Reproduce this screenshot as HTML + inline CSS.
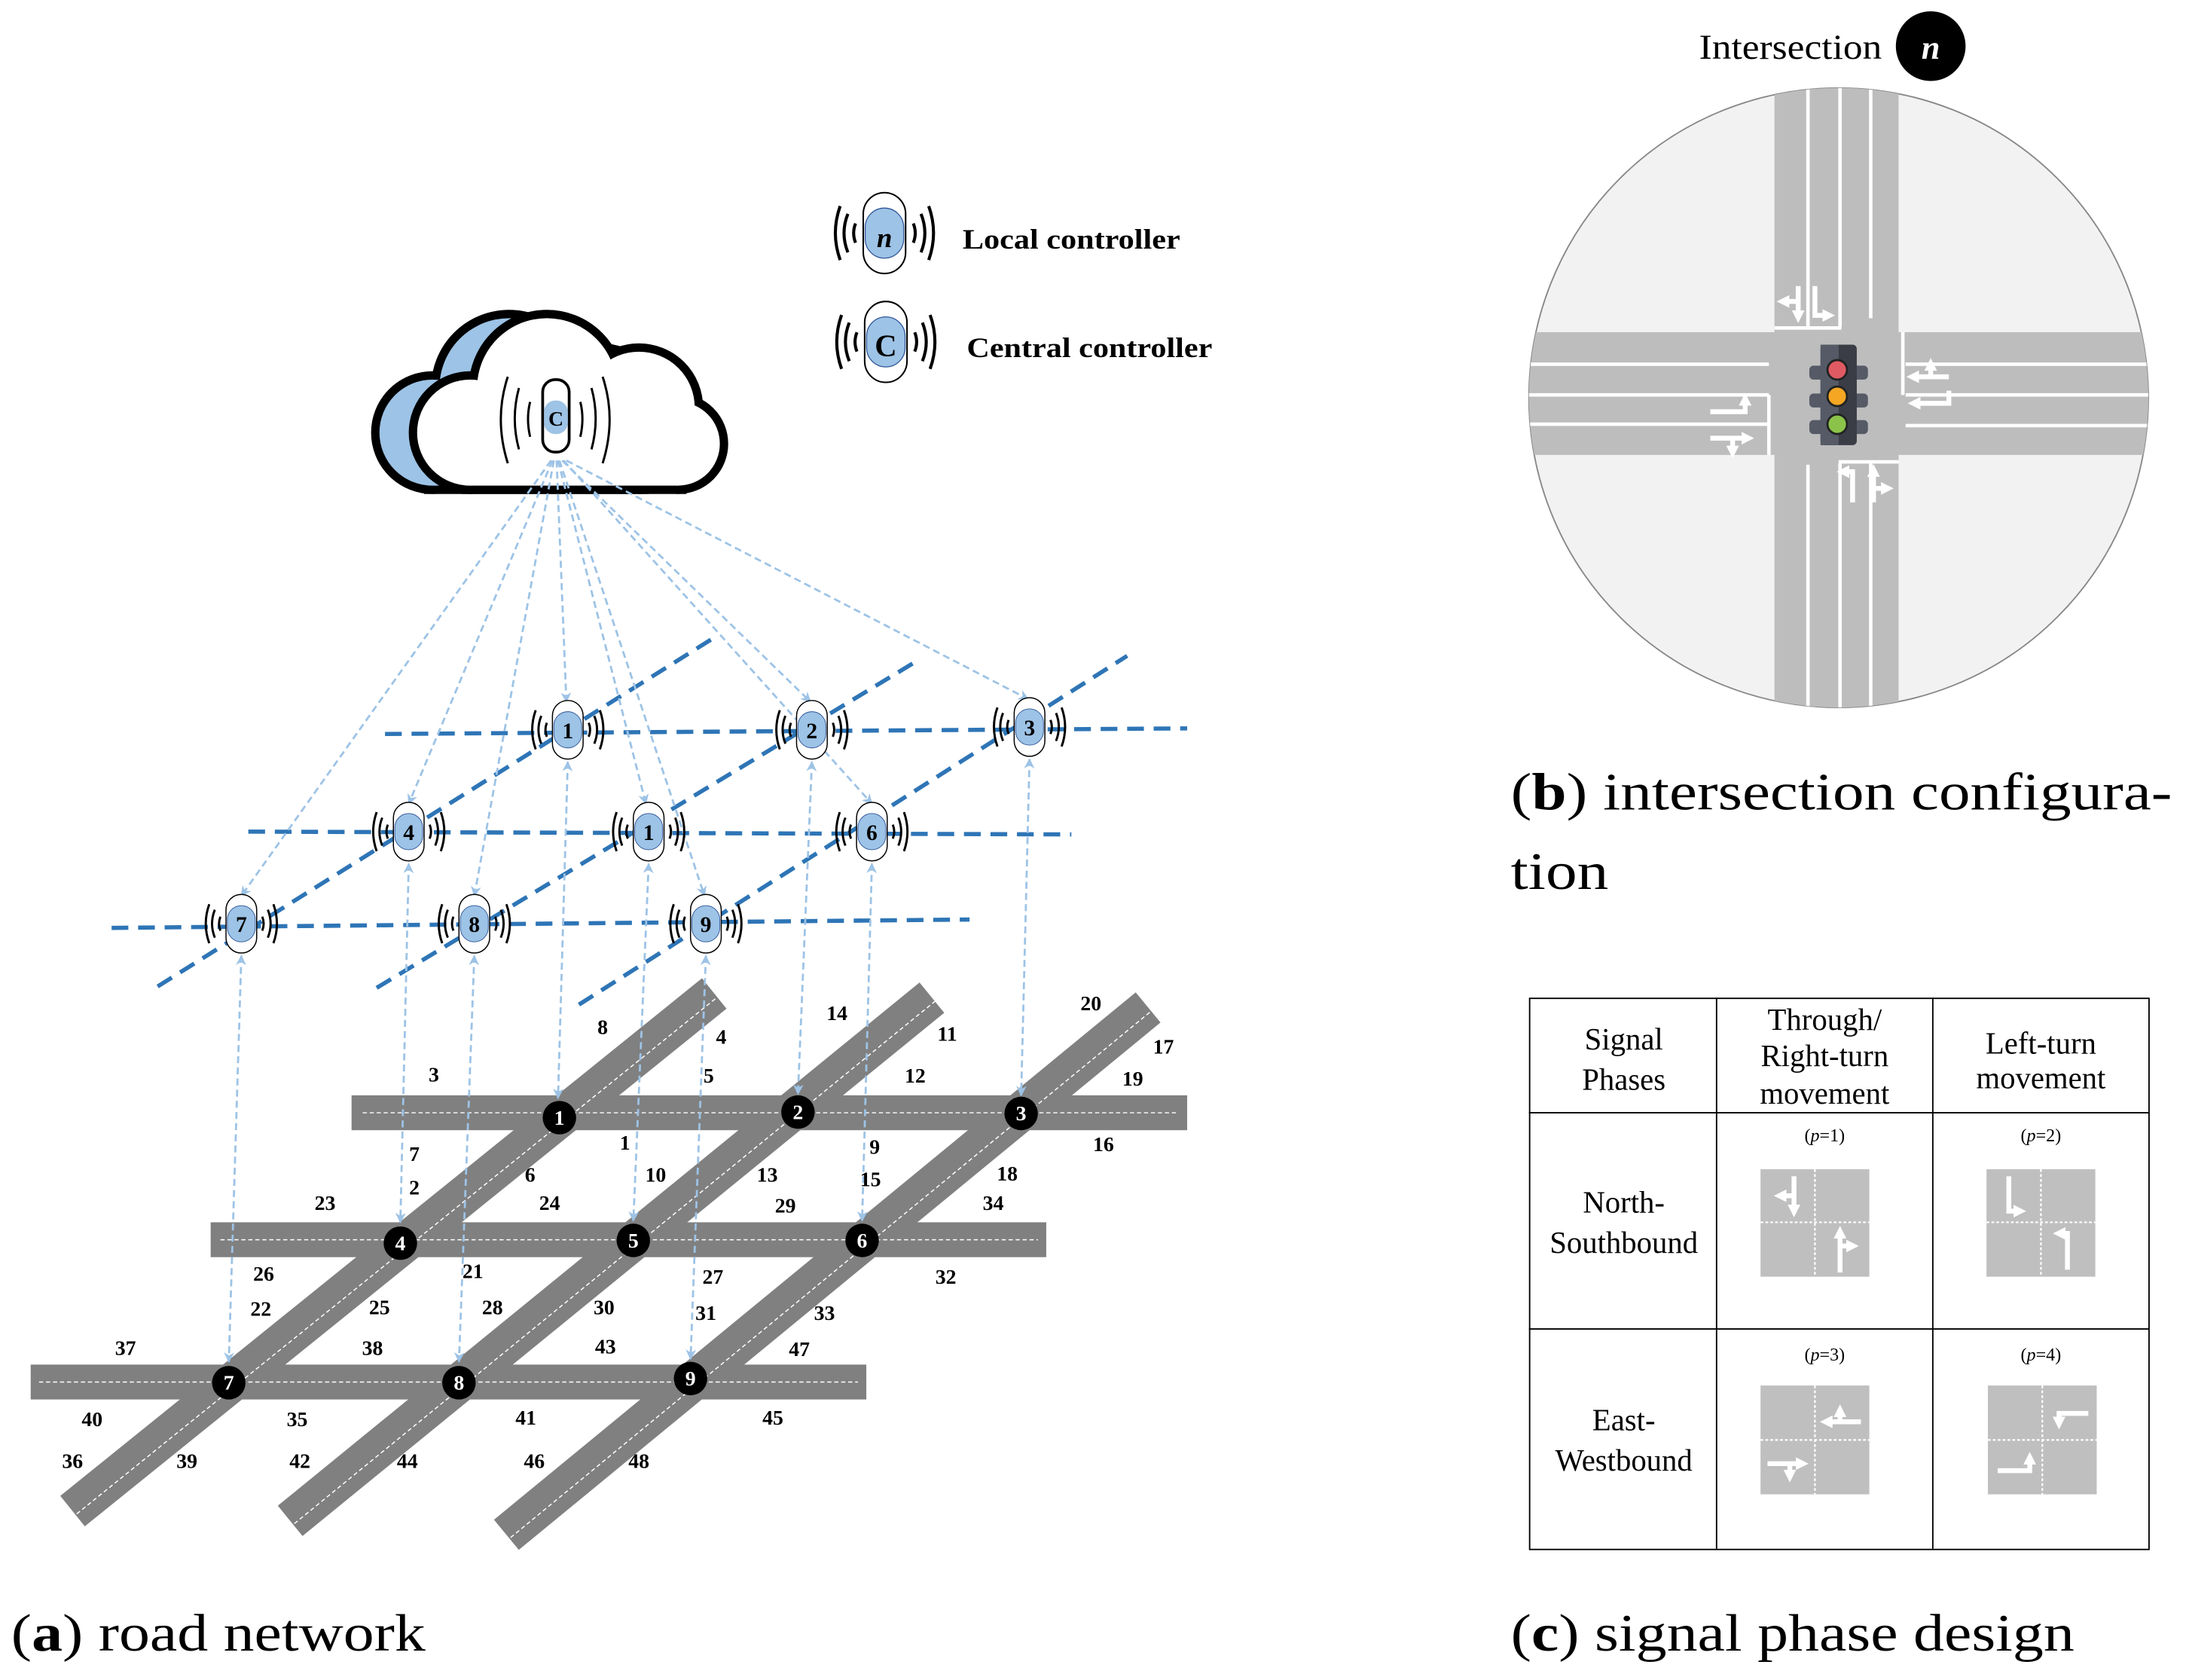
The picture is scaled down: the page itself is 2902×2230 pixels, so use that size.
<!DOCTYPE html>
<html><head><meta charset="utf-8"><style>
html,body{margin:0;padding:0;background:#fff}
svg{display:block}
text{font-family:"Liberation Serif",serif}
</style></head><body>
<svg width="2902" height="2230" viewBox="0 0 1567 1204" xmlns="http://www.w3.org/2000/svg">
<defs>
<marker id="ah" viewBox="0 0 10 10" refX="9" refY="5" markerWidth="5" markerHeight="5" orient="auto-start-reverse"><path d="M0,0 L10,5 L0,10 L3,5 Z" fill="#9dc3e6"/></marker>
<marker id="wh" viewBox="0 0 10 10" refX="4" refY="5" markerWidth="2.6" markerHeight="2.6" orient="auto"><path d="M0,0 L10,5 L0,10 Z" fill="#fff"/></marker>
<g id="ctl">
<rect x="-11" y="-21" width="22" height="42" rx="11" fill="#fff" stroke="#000" stroke-width="0.8"/>
<rect x="-10" y="-13" width="20" height="26" rx="10" fill="#9dc3e6" stroke="#2f5597" stroke-width="0.5"/>
<g fill="none" stroke="#000" stroke-width="1.6">
<path d="M-15,-5 Q-17,0 -15,5"/><path d="M-19,-10 Q-23,0 -19,10"/><path d="M-23,-14 Q-28,0 -23,14"/>
<path d="M15,-5 Q17,0 15,5"/><path d="M19,-10 Q23,0 19,10"/><path d="M23,-14 Q28,0 23,14"/>
</g>
</g>
<g id="cloudshape">
<circle cx="337" cy="310" r="38"/>
<circle cx="392" cy="278" r="50"/>
<circle cx="458" cy="292" r="40"/>
<circle cx="486" cy="318" r="30"/>
<rect x="337" y="300" width="149" height="48"/>
</g>
</defs>

<!-- cloud -->
<g transform="translate(-27,0)">
<use href="#cloudshape" fill="#000" stroke="#000" stroke-width="12"/>
<use href="#cloudshape" fill="#9dc3e6"/>
</g>
<use href="#cloudshape" fill="#000" stroke="#000" stroke-width="12"/>
<use href="#cloudshape" fill="#fff"/>
<g fill="none" stroke="#000" stroke-width="1.6">
<path d="M380,288 Q377,300 380,313"/><path d="M372,278 Q366,300 372,322"/><path d="M364,270 Q354,300 364,332"/>
<path d="M416,288 Q419,300 416,313"/><path d="M424,278 Q430,300 424,322"/><path d="M432,270 Q442,300 432,332"/>
</g>
<rect x="389" y="272" width="19" height="52" rx="9" fill="#fff" stroke="#000" stroke-width="2"/>
<rect x="390" y="287" width="17" height="24" rx="8" fill="#9dc3e6"/>
<text x="398.5" y="305" font-size="15" font-weight="bold" text-anchor="middle">C</text>

<!-- blue dashed grid lines -->
<g stroke="#2e75b6" stroke-width="3" stroke-dasharray="12,7" fill="none">
<line x1="276" y1="526" x2="851" y2="522"/>
<line x1="178" y1="596" x2="768" y2="598"/>
<line x1="80" y1="665" x2="695" y2="659"/>
<line x1="113" y1="707" x2="515" y2="455"/>
<line x1="270" y1="708" x2="660" y2="472"/>
<line x1="415" y1="720" x2="808" y2="470"/>
</g>

<!-- roads -->
<g fill="#808080">
<rect x="252" y="785" width="599" height="25"/>
<rect x="151" y="876" width="599" height="25"/>
<rect x="22" y="978" width="599" height="25"/>
</g>
<g stroke="#808080" stroke-width="28">
<line x1="52" y1="1083" x2="512" y2="712"/>
<line x1="208" y1="1090" x2="668" y2="715"/>
<line x1="363" y1="1100" x2="823" y2="722"/>
</g>
<g stroke="#fff" stroke-width="0.8" stroke-dasharray="3,2" fill="none">
<line x1="260" y1="797.5" x2="845" y2="797.5"/>
<line x1="158" y1="888.5" x2="744" y2="888.5"/>
<line x1="28" y1="990.5" x2="615" y2="990.5"/>
<line x1="55" y1="1085" x2="515" y2="714"/>
<line x1="211" y1="1092" x2="671" y2="717"/>
<line x1="366" y1="1102" x2="826" y2="724"/>
</g>

<!-- light arrows from cloud -->
<g stroke="#9dc3e6" stroke-width="1.5" stroke-dasharray="5,3" fill="none" marker-end="url(#ah)">
<line x1="395" y1="330" x2="173" y2="642"/>
<line x1="396" y1="330" x2="293" y2="576"/>
<line x1="397" y1="330" x2="340" y2="642"/>
<line x1="399" y1="330" x2="406" y2="503"/>
<line x1="400" y1="330" x2="463" y2="576"/>
<line x1="401" y1="330" x2="505" y2="642"/>
<line x1="403" y1="330" x2="581" y2="503"/>
<line x1="404" y1="330" x2="625" y2="576"/>
<line x1="406" y1="330" x2="737" y2="501"/>
</g>
<g stroke="#9dc3e6" stroke-width="1.5" stroke-dasharray="5,3" fill="none" marker-start="url(#ah)" marker-end="url(#ah)">
<line x1="173" y1="685" x2="164" y2="976"/>
<line x1="293" y1="619" x2="287" y2="876"/>
<line x1="340" y1="685" x2="329" y2="976"/>
<line x1="407" y1="546" x2="400" y2="787"/>
<line x1="465" y1="619" x2="454" y2="875"/>
<line x1="506" y1="685" x2="495" y2="974"/>
<line x1="582" y1="546" x2="572" y2="784"/>
<line x1="625" y1="619" x2="618" y2="875"/>
<line x1="738" y1="544" x2="732" y2="785"/>
</g>

<!-- controllers -->
<g font-size="16" font-weight="bold" text-anchor="middle">
<use href="#ctl" x="407" y="523"/><text x="407" y="529">1</text>
<use href="#ctl" x="582" y="523"/><text x="582" y="529">2</text>
<use href="#ctl" x="738" y="521"/><text x="738" y="527">3</text>
<use href="#ctl" x="293" y="596"/><text x="293" y="602">4</text>
<use href="#ctl" x="465" y="596"/><text x="465" y="602">1</text>
<use href="#ctl" x="625" y="596"/><text x="625" y="602">6</text>
<use href="#ctl" x="173" y="662"/><text x="173" y="668">7</text>
<use href="#ctl" x="340" y="662"/><text x="340" y="668">8</text>
<use href="#ctl" x="506" y="662"/><text x="506" y="668">9</text>
</g>

<!-- nodes -->
<g fill="#000">
<circle cx="401" cy="801" r="12"/><circle cx="572" cy="797" r="12"/><circle cx="732" cy="798" r="12"/>
<circle cx="287" cy="891" r="12"/><circle cx="454" cy="889" r="12"/><circle cx="618" cy="889" r="12"/>
<circle cx="164" cy="991" r="12"/><circle cx="329" cy="991" r="12"/><circle cx="495" cy="988" r="12"/>
</g>
<g fill="#fff" font-size="15" font-weight="bold" text-anchor="middle">
<text x="401" y="806">1</text><text x="572" y="802">2</text><text x="732" y="803">3</text>
<text x="287" y="896">4</text><text x="454" y="894">5</text><text x="618" y="894">6</text>
<text x="164" y="996">7</text><text x="329" y="996">8</text><text x="495" y="993">9</text>
</g>

<!-- link labels -->
<g font-size="15" font-weight="bold" text-anchor="middle">
<text x="311" y="775">3</text><text x="432" y="741">8</text><text x="517" y="748">4</text><text x="508" y="776">5</text>
<text x="600" y="731">14</text><text x="679" y="746">11</text><text x="656" y="776">12</text>
<text x="782" y="724">20</text><text x="834" y="755">17</text><text x="812" y="778">19</text><text x="791" y="825">16</text>
<text x="297" y="832">7</text><text x="297" y="856">2</text><text x="380" y="847">6</text><text x="448" y="824">1</text>
<text x="470" y="847">10</text><text x="394" y="867">24</text><text x="550" y="847">13</text><text x="627" y="827">9</text>
<text x="624" y="850">15</text><text x="563" y="869">29</text><text x="722" y="846">18</text><text x="712" y="867">34</text>
<text x="233" y="867">23</text><text x="189" y="918">26</text><text x="187" y="943">22</text><text x="339" y="916">21</text>
<text x="272" y="942">25</text><text x="353" y="942">28</text><text x="433" y="942">30</text><text x="511" y="920">27</text>
<text x="506" y="946">31</text><text x="591" y="946">33</text><text x="678" y="920">32</text>
<text x="90" y="971">37</text><text x="267" y="971">38</text><text x="434" y="970">43</text><text x="573" y="972">47</text>
<text x="66" y="1022">40</text><text x="213" y="1022">35</text><text x="377" y="1021">41</text><text x="554" y="1021">45</text>
<text x="52" y="1052">36</text><text x="134" y="1052">39</text><text x="215" y="1052">42</text><text x="292" y="1052">44</text>
<text x="383" y="1052">46</text><text x="458" y="1052">48</text>
</g>

<!-- legend -->
<g transform="translate(634,167) scale(1.38)"><use href="#ctl"/></g>
<text x="634" y="177" font-size="20" font-weight="bold" font-style="italic" text-anchor="middle">n</text>
<text x="690" y="178" font-size="20" font-weight="bold" textLength="156" lengthAdjust="spacingAndGlyphs">Local controller</text>
<g transform="translate(635,245) scale(1.38)"><use href="#ctl"/></g>
<text x="635" y="255" font-size="22" font-weight="bold" text-anchor="middle">C</text>
<text x="693" y="256" font-size="20" font-weight="bold" textLength="176" lengthAdjust="spacingAndGlyphs">Central controller</text>

<!-- captions -->
<text x="8" y="1183" font-size="38" textLength="297" lengthAdjust="spacingAndGlyphs">(<tspan font-weight="bold">a</tspan>) road network</text>
<text x="1083" y="580" font-size="38" textLength="474" lengthAdjust="spacingAndGlyphs">(<tspan font-weight="bold">b</tspan>) intersection configura-</text>
<text x="1083" y="637" font-size="38" textLength="70" lengthAdjust="spacingAndGlyphs">tion</text>
<text x="1083" y="1183" font-size="38" textLength="404" lengthAdjust="spacingAndGlyphs">(<tspan font-weight="bold">c</tspan>) signal phase design</text>

<!-- intersection -->
<text x="1218" y="42" font-size="25" textLength="131" lengthAdjust="spacingAndGlyphs">Intersection</text>
<circle cx="1384" cy="33" r="25" fill="#000"/>
<text x="1384" y="42" font-size="24" font-weight="bold" font-style="italic" fill="#fff" text-anchor="middle">n</text>
<clipPath id="cc"><circle cx="1318" cy="285" r="222"/></clipPath>
<circle cx="1318" cy="285" r="222" fill="#f2f2f2" stroke="#888" stroke-width="1"/>
<g clip-path="url(#cc)">
<rect x="1272" y="60" width="89" height="450" fill="#bdbdbd"/>
<rect x="1094" y="238" width="446" height="88" fill="#bdbdbd"/>
<g stroke="#fff" stroke-width="2.5" fill="none">
<line x1="1296" y1="60" x2="1296" y2="234"/><line x1="1319" y1="60" x2="1319" y2="234"/><line x1="1341" y1="60" x2="1341" y2="228"/>
<polyline points="1272,235 1320,235"/>
<line x1="1296" y1="333" x2="1296" y2="510"/><line x1="1319" y1="332" x2="1319" y2="510"/><line x1="1341" y1="332" x2="1341" y2="510"/>
<polyline points="1318,331 1361,331"/>
<line x1="1094" y1="261" x2="1268" y2="261"/><line x1="1094" y1="283" x2="1268" y2="283"/><line x1="1094" y1="304" x2="1268" y2="304"/>
<polyline points="1268,283 1268,326"/>
<line x1="1366" y1="261" x2="1540" y2="261"/><line x1="1366" y1="283" x2="1540" y2="283"/><line x1="1366" y1="305" x2="1540" y2="305"/>
<polyline points="1364,238 1364,283"/>
</g>
<!-- lane arrows -->
<g stroke="#fff" stroke-width="3.5" fill="none" marker-end="url(#wh)">
<path d="M1289,205 V226"/><path d="M1289,216 H1279"/><path d="M1301,205 V226 H1310"/>
<path d="M1328,360 V338 H1322"/><path d="M1343,360 V338"/><path d="M1343,350 H1352"/>
<path d="M1397,270 H1372"/><path d="M1384,270 V262"/><path d="M1397,280 V289 H1373"/>
<path d="M1226,295 H1251 V287"/><path d="M1226,314 H1252"/><path d="M1242,314 V323"/>
</g>
</g>
<!-- traffic light -->
<g>
<rect x="1297" y="262" width="42" height="10" rx="3" fill="#555a66"/>
<rect x="1297" y="282" width="42" height="10" rx="3" fill="#555a66"/>
<rect x="1297" y="301" width="42" height="10" rx="3" fill="#555a66"/>
<rect x="1305" y="247" width="26" height="72" rx="3" fill="#3a3d46"/>
<rect x="1305" y="247" width="13" height="72" fill="#555a66"/>
<circle cx="1317" cy="265" r="7" fill="#e05a63" stroke="#222" stroke-width="1.5"/>
<circle cx="1317" cy="284" r="7" fill="#f5a623" stroke="#222" stroke-width="1.5"/>
<circle cx="1317" cy="304" r="7" fill="#8bc34a" stroke="#222" stroke-width="1.5"/>
</g>

<!-- table -->
<g stroke="#000" stroke-width="1" fill="none">
<rect x="1096.5" y="715.5" width="444" height="395"/>
<line x1="1230.5" y1="715" x2="1230.5" y2="1110"/>
<line x1="1385.5" y1="715" x2="1385.5" y2="1110"/>
<line x1="1096" y1="797.5" x2="1540" y2="797.5"/>
<line x1="1096" y1="952.5" x2="1540" y2="952.5"/>
</g>
<g font-size="22" text-anchor="middle">
<text x="1164" y="752">Signal</text><text x="1164" y="781">Phases</text>
<text x="1308" y="738">Through/</text><text x="1308" y="764">Right-turn</text><text x="1308" y="791">movement</text>
<text x="1463" y="755">Left-turn</text><text x="1463" y="780">movement</text>
<text x="1164" y="869">North-</text><text x="1164" y="898">Southbound</text>
<text x="1164" y="1025">East-</text><text x="1164" y="1054">Westbound</text>
</g>
<g font-size="13" text-anchor="middle">
<text x="1308" y="818">(<tspan font-style="italic">p</tspan>=1)</text>
<text x="1463" y="818">(<tspan font-style="italic">p</tspan>=2)</text>
<text x="1308" y="975">(<tspan font-style="italic">p</tspan>=3)</text>
<text x="1463" y="975">(<tspan font-style="italic">p</tspan>=4)</text>
</g>
<g fill="#bfbfbf">
<rect x="1262" y="838" width="78" height="77"/><rect x="1424" y="838" width="78" height="77"/>
<rect x="1262" y="993" width="78" height="78"/><rect x="1425" y="993" width="78" height="78"/>
</g>
<g stroke="#fff" stroke-width="1.2" stroke-dasharray="2,1.5">
<line x1="1301" y1="838" x2="1301" y2="915"/><line x1="1262" y1="876" x2="1340" y2="876"/>
<line x1="1463" y1="838" x2="1463" y2="915"/><line x1="1424" y1="876" x2="1502" y2="876"/>
<line x1="1301" y1="993" x2="1301" y2="1071"/><line x1="1262" y1="1032" x2="1340" y2="1032"/>
<line x1="1464" y1="993" x2="1464" y2="1071"/><line x1="1425" y1="1032" x2="1503" y2="1032"/>
</g>
<g stroke="#fff" stroke-width="3.5" fill="none" marker-end="url(#wh)">
<path d="M1286,843 V867"/><path d="M1286,857 H1277"/>
<path d="M1319,912 V884"/><path d="M1319,893 H1327"/>
<path d="M1440,843 V868 H1447"/>
<path d="M1482,910 V884 H1477"/>
<path d="M1334,1019 H1310"/><path d="M1319,1019 V1012"/>
<path d="M1267,1049 H1291"/><path d="M1283,1049 V1057"/>
<path d="M1497,1013 H1476 V1019"/>
<path d="M1432,1054 H1455 V1046"/>
</g>
</svg>
</body></html>
